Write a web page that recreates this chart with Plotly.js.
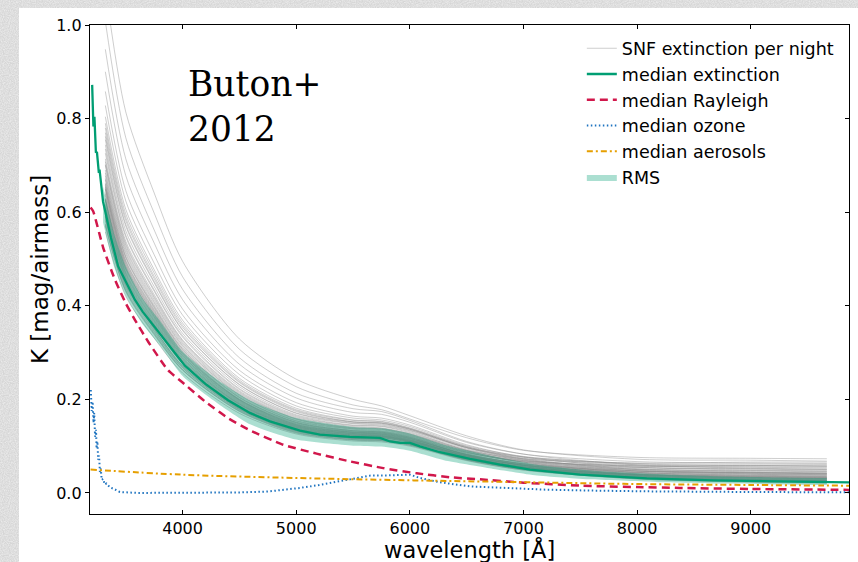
<!DOCTYPE html>
<html>
<head>
<meta charset="utf-8">
<script src="https://cdn.plot.ly/plotly-3.0.1.min.js"></script>
<style>
  html, body { margin: 0; padding: 0; width: 858px; height: 562px; overflow: hidden; }
  body {
    background-color: #d6d6d6;
    background-image: url("data:image/svg+xml;utf8,<svg xmlns='http://www.w3.org/2000/svg' width='160' height='160'><filter id='n'><feTurbulence type='fractalNoise' baseFrequency='0.85' numOctaves='3' stitchTiles='stitch'/><feColorMatrix values='0 0 0 0 1  0 0 0 0 1  0 0 0 0 1  0.9 0 0 0 -0.25'/></filter><rect width='160' height='160' filter='url(%23n)'/></svg>");
  }
  #chart { position: absolute; left: 19px; top: 8px; width: 839px; height: 554px; }
</style>
</head>
<body>
<div id="chart"></div>
<script>
// Nightly extinction curves (mag/airmass), sampled on a common wavelength grid
const NIGHT_W = [3320, 3500, 3750, 4000, 4500, 5000, 5500, 5750, 6000, 6500, 7000, 8000, 9000, 9670];
const NIGHTS = [
  [0.558, 0.420, 0.331, 0.256, 0.170, 0.126, 0.111, 0.109, 0.100, 0.069, 0.049, 0.030, 0.024, 0.022],
  [0.570, 0.430, 0.338, 0.262, 0.174, 0.128, 0.113, 0.111, 0.102, 0.070, 0.049, 0.030, 0.023, 0.021],
  [0.573, 0.432, 0.340, 0.263, 0.175, 0.129, 0.114, 0.112, 0.102, 0.071, 0.051, 0.034, 0.029, 0.027],
  [0.575, 0.434, 0.342, 0.264, 0.176, 0.130, 0.114, 0.112, 0.103, 0.071, 0.052, 0.036, 0.032, 0.030],
  [0.582, 0.438, 0.345, 0.267, 0.178, 0.131, 0.116, 0.114, 0.104, 0.072, 0.051, 0.032, 0.026, 0.024],
  [0.585, 0.441, 0.347, 0.268, 0.178, 0.132, 0.116, 0.114, 0.104, 0.073, 0.054, 0.039, 0.035, 0.033],
  [0.590, 0.444, 0.350, 0.270, 0.180, 0.133, 0.117, 0.115, 0.105, 0.073, 0.052, 0.033, 0.028, 0.026],
  [0.591, 0.445, 0.351, 0.271, 0.180, 0.133, 0.117, 0.115, 0.105, 0.073, 0.052, 0.034, 0.027, 0.025],
  [0.594, 0.448, 0.352, 0.272, 0.181, 0.134, 0.118, 0.116, 0.106, 0.073, 0.051, 0.032, 0.025, 0.023],
  [0.598, 0.455, 0.358, 0.277, 0.184, 0.136, 0.120, 0.118, 0.108, 0.076, 0.056, 0.040, 0.036, 0.034],
  [0.603, 0.452, 0.357, 0.276, 0.184, 0.136, 0.120, 0.118, 0.108, 0.075, 0.054, 0.036, 0.030, 0.028],
  [0.606, 0.457, 0.360, 0.278, 0.185, 0.136, 0.120, 0.118, 0.108, 0.075, 0.053, 0.034, 0.027, 0.025],
  [0.609, 0.459, 0.361, 0.279, 0.186, 0.137, 0.121, 0.119, 0.109, 0.076, 0.055, 0.038, 0.033, 0.031],
  [0.612, 0.461, 0.363, 0.281, 0.187, 0.138, 0.122, 0.120, 0.110, 0.077, 0.056, 0.039, 0.034, 0.032],
  [0.615, 0.463, 0.365, 0.282, 0.188, 0.138, 0.122, 0.120, 0.110, 0.076, 0.054, 0.033, 0.026, 0.024],
  [0.618, 0.466, 0.367, 0.283, 0.189, 0.139, 0.123, 0.121, 0.110, 0.077, 0.055, 0.036, 0.029, 0.027],
  [0.624, 0.470, 0.370, 0.286, 0.190, 0.140, 0.124, 0.122, 0.111, 0.078, 0.056, 0.038, 0.032, 0.030],
  [0.626, 0.468, 0.368, 0.285, 0.190, 0.140, 0.123, 0.121, 0.111, 0.079, 0.060, 0.046, 0.044, 0.042],
  [0.627, 0.472, 0.372, 0.287, 0.191, 0.141, 0.124, 0.122, 0.112, 0.079, 0.059, 0.044, 0.040, 0.038],
  [0.628, 0.478, 0.376, 0.290, 0.193, 0.142, 0.126, 0.123, 0.113, 0.078, 0.055, 0.035, 0.028, 0.026],
  [0.630, 0.475, 0.374, 0.289, 0.192, 0.142, 0.125, 0.123, 0.112, 0.078, 0.055, 0.034, 0.027, 0.025],
  [0.636, 0.479, 0.377, 0.292, 0.194, 0.143, 0.126, 0.124, 0.113, 0.080, 0.059, 0.043, 0.038, 0.036],
  [0.639, 0.481, 0.379, 0.293, 0.195, 0.144, 0.127, 0.125, 0.114, 0.079, 0.057, 0.037, 0.030, 0.028],
  [0.642, 0.484, 0.381, 0.294, 0.196, 0.144, 0.127, 0.125, 0.114, 0.080, 0.058, 0.039, 0.032, 0.030],
  [0.648, 0.488, 0.384, 0.297, 0.198, 0.146, 0.129, 0.126, 0.116, 0.081, 0.059, 0.041, 0.036, 0.034],
  [0.650, 0.485, 0.382, 0.296, 0.197, 0.145, 0.128, 0.126, 0.115, 0.082, 0.063, 0.050, 0.048, 0.046],
  [0.651, 0.490, 0.386, 0.298, 0.199, 0.146, 0.129, 0.127, 0.116, 0.082, 0.062, 0.047, 0.044, 0.042],
  [0.654, 0.493, 0.388, 0.300, 0.199, 0.147, 0.130, 0.128, 0.117, 0.081, 0.058, 0.037, 0.029, 0.027],
  [0.657, 0.495, 0.390, 0.301, 0.200, 0.148, 0.130, 0.128, 0.117, 0.082, 0.060, 0.040, 0.033, 0.031],
  [0.660, 0.497, 0.392, 0.303, 0.201, 0.149, 0.131, 0.129, 0.118, 0.083, 0.062, 0.047, 0.043, 0.041],
  [0.662, 0.502, 0.395, 0.305, 0.203, 0.150, 0.132, 0.130, 0.119, 0.082, 0.059, 0.039, 0.031, 0.029],
  [0.669, 0.504, 0.397, 0.307, 0.204, 0.151, 0.133, 0.130, 0.119, 0.086, 0.068, 0.058, 0.059, 0.059],
  [0.672, 0.506, 0.399, 0.308, 0.205, 0.151, 0.133, 0.131, 0.120, 0.084, 0.061, 0.041, 0.034, 0.032],
  [0.678, 0.511, 0.402, 0.311, 0.207, 0.153, 0.134, 0.132, 0.121, 0.085, 0.062, 0.044, 0.038, 0.036],
  [0.684, 0.515, 0.406, 0.314, 0.209, 0.154, 0.136, 0.133, 0.122, 0.087, 0.067, 0.054, 0.052, 0.050],
  [0.690, 0.520, 0.409, 0.316, 0.210, 0.155, 0.137, 0.135, 0.123, 0.087, 0.066, 0.051, 0.047, 0.045],
  [0.700, 0.524, 0.413, 0.319, 0.212, 0.157, 0.138, 0.136, 0.124, 0.089, 0.069, 0.057, 0.056, 0.055],
  [0.702, 0.529, 0.417, 0.322, 0.214, 0.158, 0.139, 0.137, 0.125, 0.088, 0.064, 0.044, 0.037, 0.035],
  [0.708, 0.533, 0.420, 0.325, 0.216, 0.159, 0.140, 0.138, 0.126, 0.091, 0.073, 0.064, 0.066, 0.066],
  [0.714, 0.538, 0.424, 0.327, 0.218, 0.161, 0.142, 0.139, 0.127, 0.090, 0.066, 0.047, 0.041, 0.039],
  [0.726, 0.547, 0.431, 0.333, 0.221, 0.163, 0.144, 0.142, 0.129, 0.092, 0.070, 0.055, 0.051, 0.049],
  [0.735, 0.551, 0.434, 0.336, 0.223, 0.165, 0.145, 0.143, 0.131, 0.091, 0.066, 0.043, 0.035, 0.033],
  [0.744, 0.560, 0.441, 0.341, 0.227, 0.167, 0.148, 0.145, 0.133, 0.094, 0.069, 0.047, 0.040, 0.038],
  [0.755, 0.570, 0.449, 0.347, 0.231, 0.170, 0.149, 0.147, 0.134, 0.097, 0.077, 0.063, 0.062, 0.061],
  [0.762, 0.574, 0.452, 0.349, 0.232, 0.171, 0.151, 0.149, 0.136, 0.097, 0.072, 0.052, 0.045, 0.043],
  [0.770, 0.582, 0.458, 0.354, 0.236, 0.174, 0.152, 0.150, 0.137, 0.096, 0.071, 0.049, 0.042, 0.040],
  [0.780, 0.588, 0.463, 0.358, 0.238, 0.176, 0.152, 0.149, 0.136, 0.097, 0.074, 0.058, 0.055, 0.053],
  [0.790, 0.596, 0.470, 0.363, 0.241, 0.178, 0.155, 0.152, 0.138, 0.099, 0.076, 0.060, 0.058, 0.057],
  [0.804, 0.606, 0.477, 0.369, 0.245, 0.181, 0.156, 0.153, 0.139, 0.099, 0.073, 0.050, 0.043, 0.041],
  [0.828, 0.624, 0.491, 0.380, 0.253, 0.186, 0.160, 0.156, 0.142, 0.101, 0.078, 0.062, 0.059, 0.057],
  [0.858, 0.646, 0.509, 0.393, 0.262, 0.193, 0.164, 0.160, 0.145, 0.103, 0.077, 0.055, 0.049, 0.047],
  [0.900, 0.678, 0.534, 0.413, 0.275, 0.203, 0.172, 0.168, 0.151, 0.108, 0.083, 0.067, 0.064, 0.063],
  [0.948, 0.714, 0.562, 0.435, 0.289, 0.213, 0.180, 0.174, 0.155, 0.110, 0.083, 0.060, 0.053, 0.051],
  [1.008, 0.759, 0.598, 0.462, 0.307, 0.227, 0.188, 0.178, 0.158, 0.118, 0.091, 0.076, 0.074, 0.073],
  [1.080, 0.814, 0.641, 0.495, 0.329, 0.243, 0.200, 0.186, 0.165, 0.122, 0.092, 0.072, 0.070, 0.068]
];

// Median extinction
const MED_W = [3204, 3215, 3224, 3237, 3246, 3263, 3269, 3292, 3300, 3316, 3370, 3433, 3500, 3580, 3650, 3727, 3800, 3873, 3950, 4020,
               4200, 4400, 4592, 4769, 5033, 5208, 5472, 5649, 5737, 5825, 5913, 6001, 6089, 6265, 6529, 6793, 7057, 7497, 8085, 8668,
               9258, 9654, 9865];
const MED = [0.872, 0.783, 0.804, 0.727, 0.729, 0.684, 0.691, 0.627, 0.622, 0.605, 0.545, 0.484, 0.452, 0.413, 0.387, 0.363, 0.341, 0.320, 0.294, 0.272,
             0.233, 0.198, 0.171, 0.153, 0.133, 0.1245, 0.1197, 0.119, 0.1175, 0.110, 0.107, 0.107, 0.0996, 0.087, 0.0726, 0.0605, 0.050, 0.039, 0.031, 0.027,
             0.024, 0.0227, 0.0225];

// RMS envelope around the median
const BAND_W  = [3300, 3400, 3500, 3650, 3800, 4000, 4300, 4600, 5000, 5500, 5750, 6000, 6300, 6700, 7100, 7600, 8200, 8800, 9300, 9670];
const BAND_LO = [0.578, 0.481, 0.421, 0.360, 0.315, 0.250, 0.193, 0.146, 0.114, 0.101, 0.099, 0.090, 0.070, 0.053, 0.038, 0.029, 0.023, 0.020, 0.018, 0.017];
const BAND_HI = [0.655, 0.551, 0.484, 0.415, 0.368, 0.302, 0.243, 0.197, 0.160, 0.141, 0.138, 0.127, 0.103, 0.080, 0.061, 0.048, 0.040, 0.035, 0.033, 0.032];

// Median Rayleigh component
const RAY_W = [3190, 3213, 3300, 3404, 3500, 3580, 3700, 3873, 4000, 4200, 4400, 4592, 4886, 5179, 5472, 5766, 6060, 6353, 6617, 7000, 7497, 8000, 8377, 9000, 9865];
const RAY   = [0.610, 0.602, 0.525, 0.456, 0.405, 0.370, 0.322, 0.262, 0.236, 0.195, 0.160, 0.134, 0.103, 0.084, 0.0675, 0.053, 0.042, 0.0335, 0.029, 0.022, 0.0156, 0.0125, 0.0107, 0.0085, 0.0065];

// Median ozone component
const OZ_W = [3192, 3200, 3208, 3216, 3222, 3230, 3238, 3243, 3250, 3257, 3265, 3272, 3280, 3288, 3301, 3315, 3330, 3360, 3400, 3448, 3600, 4000, 4500, 4750,
              5033, 5200, 5385, 5550, 5649, 5825, 6001, 6089, 6265, 6529, 6793, 7200, 7600, 8085, 9000, 9865];
const OZ   = [0.220, 0.175, 0.195, 0.150, 0.171, 0.120, 0.135, 0.095, 0.110, 0.071, 0.080, 0.045, 0.052, 0.028, 0.030, 0.018, 0.020, 0.012, 0.008, 0.002, 0.000, 0.000, 0.001, 0.003,
              0.0107, 0.017, 0.025, 0.032, 0.037, 0.0376, 0.039, 0.032, 0.0227, 0.014, 0.0107, 0.007, 0.005, 0.0034, 0.002, 0.0013];

// Median aerosol component
const AER_W = [3190, 4000, 5000, 6000, 7000, 8000, 9000, 9865];
const AER   = [0.050, 0.039, 0.032, 0.027, 0.023, 0.019, 0.017, 0.0155];

const X_RANGE = [3185, 9865];
const Y_RANGE = [-0.045, 1.0];
const X_TICKS = [4000, 5000, 6000, 7000, 8000, 9000];
const Y_TICKS = [0.0, 0.2, 0.4, 0.6, 0.8, 1.0];
const Y_TICK_TEXT = ['0.0', '0.2', '0.4', '0.6', '0.8', '1.0'];
const X_LABEL = 'wavelength [Å]';
const Y_LABEL = 'K [mag/airmass]';

const traces = [];

NIGHTS.forEach(function (vals, i) {
  traces.push({
    x: NIGHT_W, y: vals, type: 'scatter', mode: 'lines',
    line: { color: 'rgba(135,135,135,0.55)', width: 0.75, shape: 'spline', smoothing: 0.8 },
    name: 'SNF extinction per night', showlegend: i === 0, legendrank: 1, hoverinfo: 'skip'
  });
});

traces.push({
  x: BAND_W, y: BAND_LO, type: 'scatter', mode: 'lines',
  line: { width: 0, shape: 'spline', smoothing: 0.6 }, showlegend: false, hoverinfo: 'skip'
});
traces.push({
  x: BAND_W, y: BAND_HI, type: 'scatter', mode: 'lines',
  line: { width: 0, shape: 'spline', smoothing: 0.6 }, fill: 'tonexty', fillcolor: 'rgba(0,158,115,0.33)',
  name: 'RMS', legendrank: 6, hoverinfo: 'skip'
});

traces.push({
  x: MED_W, y: MED, type: 'scatter', mode: 'lines',
  line: { color: '#009e73', width: 2.3 }, name: 'median extinction', legendrank: 2
});
traces.push({
  x: RAY_W, y: RAY, type: 'scatter', mode: 'lines',
  line: { color: '#d1174b', width: 2.5, dash: '8px,5px', shape: 'spline', smoothing: 0.5 }, name: 'median Rayleigh', legendrank: 3
});
traces.push({
  x: OZ_W, y: OZ, type: 'scatter', mode: 'lines',
  line: { color: '#1f74c0', width: 2, dash: '1.5px,2.5px' }, name: 'median ozone', legendrank: 4
});
traces.push({
  x: AER_W, y: AER, type: 'scatter', mode: 'lines',
  line: { color: '#e69f00', width: 2, dash: '6px,3px,2px,3px', shape: 'spline' }, name: 'median aerosols', legendrank: 5
});

// carrier for the mirrored tick axes on top and right
traces.push({ x: [], y: [], xaxis: 'x2', yaxis: 'y2', showlegend: false, hoverinfo: 'skip' });

const baseFont = 'DejaVu Sans, sans-serif';

const layout = {
  width: 839, height: 554,
  margin: { l: 71, r: 9, t: 17, b: 48 },
  paper_bgcolor: '#ffffff', plot_bgcolor: '#ffffff',
  font: { family: baseFont, color: '#000000' },
  showlegend: true,
  legend: {
    x: 0.648, y: 0.989, xanchor: 'left', yanchor: 'top', traceorder: 'normal',
    bgcolor: 'rgba(255,255,255,0)', borderwidth: 0,
    font: { family: baseFont, size: 17.5, color: '#000000' }
  },
  xaxis: {
    range: X_RANGE, tickvals: X_TICKS, ticks: 'inside', ticklen: 4, tickwidth: 1, tickcolor: '#000',
    showline: true, linecolor: '#000', linewidth: 1.2, mirror: true,
    showgrid: false, zeroline: false,
    tickfont: { family: baseFont, size: 16 }
  },
  yaxis: {
    range: Y_RANGE, tickvals: Y_TICKS, ticktext: Y_TICK_TEXT, ticks: 'outside', ticklen: 4, tickwidth: 1, tickcolor: '#000',
    showline: true, linecolor: '#000', linewidth: 1.2, mirror: true,
    showgrid: false, zeroline: false,
    tickfont: { family: baseFont, size: 16 },
    title: { text: Y_LABEL, font: { family: baseFont, size: 23 }, standoff: 1 }
  },
  xaxis2: {
    overlaying: 'x', side: 'top', anchor: 'y', range: X_RANGE, tickvals: X_TICKS,
    ticks: 'inside', ticklen: 4, tickwidth: 1, tickcolor: '#000',
    showticklabels: false, showline: false, showgrid: false, zeroline: false
  },
  yaxis2: {
    overlaying: 'y', side: 'right', anchor: 'x', range: Y_RANGE, tickvals: Y_TICKS,
    ticks: 'inside', ticklen: 4, tickwidth: 1, tickcolor: '#000',
    showticklabels: false, showline: false, showgrid: false, zeroline: false
  },
  annotations: [
    {
      text: 'Buton+<br>2012', xref: 'paper', yref: 'paper', x: 0.1265, y: 0.925,
      xanchor: 'left', yanchor: 'top', align: 'left', showarrow: false,
      font: { family: 'DejaVu Serif, serif', size: 34.5, color: '#000000' }
    },
    {
      // x-axis label placed just under the tick labels, at the foot of the page
      text: X_LABEL, xref: 'paper', yref: 'paper', x: 0.5, y: -0.0425,
      xanchor: 'center', yanchor: 'top', showarrow: false, borderpad: 0,
      font: { family: baseFont, size: 22.5, color: '#000000' }
    }
  ]
};

Plotly.newPlot('chart', traces, layout, { displayModeBar: false, staticPlot: true });
</script>
</body>
</html>
